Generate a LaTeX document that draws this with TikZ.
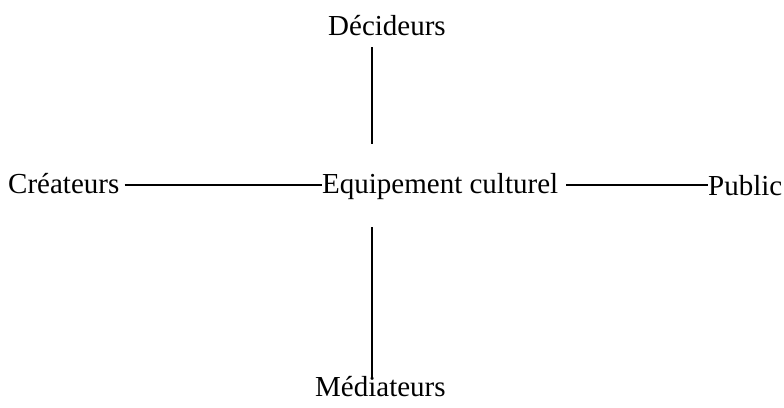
\documentclass[tikz,border=0pt]{standalone}
\usepackage{fontspec}
\setmainfont{Liberation Serif}
\usetikzlibrary{calc}
\begin{document}
\begin{tikzpicture}[x=1pt,y=-1pt,
  lbl/.style={anchor=base west,inner sep=0pt,font=\fontsize{29}{34}\selectfont},
  link/.style={line width=1.5pt,black}]
\useasboundingbox (0,0) rectangle (784,407);
\node[lbl] (dec) at (328,35) {Décideurs};
\node[lbl] (cre) at (8,193) {Créateurs};
\node[lbl] (equ) at (322,193) {Equipement culturel};
\node[lbl] (pub) at (708,195) {Public};
\node[lbl] (med) at (315,396) {Médiateurs};
\draw[link] ($(cre.base east)+(5,-8)$) -- ($(equ.base west)+(0,-8)$);
\draw[link] ($(equ.base east)+(8,-8)$) -- ($(pub.base west)+(0,-10)$);
\draw[link] ($(dec.base west)+(44,12)$) -- ($(equ.base west)+(50,-49)$);
\draw[link] ($(equ.base west)+(50,34)$) -- ($(med.base west)+(57,-17)$);
\end{tikzpicture}
\end{document}
